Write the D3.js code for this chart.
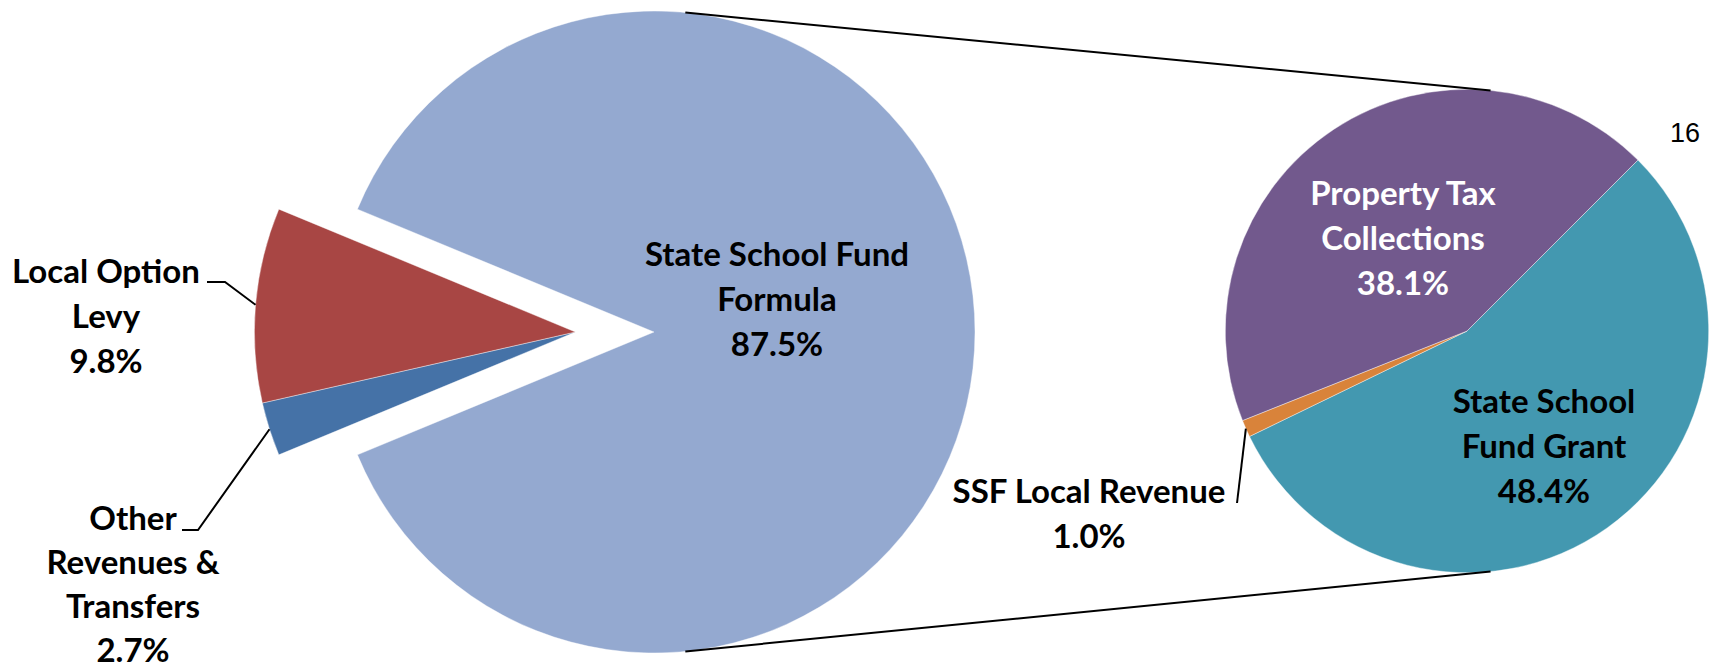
<!DOCTYPE html>
<html>
<head>
<meta charset="utf-8">
<script src="https://cdn.jsdelivr.net/npm/d3@7/dist/d3.min.js"></script>
<style>
  html, body { margin: 0; padding: 0; background: #fff; }
  svg { display: block; }
  .lbl { font-family: Lato, "Open Sans", sans-serif; font-weight: 700; }
</style>
</head>
<body>
<svg id="chart" width="1711" height="668"></svg>
<script>
// ---- data ----
const mainCategories = ["State School Fund Formula", "Other Revenues & Transfers", "Local Option Levy"];
const mainValues = [87.5, 2.7, 9.8];
const mainColors = ["#94A9D0", "#4572A7", "#A84644"];
const mainLabelLines = [["State School Fund", "Formula"], ["Other", "Revenues &", "Transfers"], ["Local Option", "Levy"]];

const subCategories = ["State School Fund Grant", "SSF Local Revenue", "Property Tax Collections"];
const subValues = [48.4, 1.0, 38.1];
const subColors = ["#4398B0", "#D9833A", "#72598D"];
const subLabelLines = [["State School", "Fund Grant"], ["SSF Local Revenue"], ["Property Tax", "Collections"]];
const subLabelColors = ["#000", "#000", "#fff"];

const pageNumber = "16";

// ---- layout ----
const svg = d3.select("#chart");
const fmt = v => d3.format(".1f")(v) + "%";

const main = { cx: 654, cy: 332, r: 321, explode: 78.6 };
const sub = { cx: 1467, cy: 331, r: 241.7 };
const fontSize = 33, lineH = 44.8;

// main pie: first slice centred on the right (3 o'clock)
const mainTotal = d3.sum(mainValues);
const mainStart = Math.PI / 2 - (mainValues[0] / mainTotal) * Math.PI;
const mainPie = d3.pie().sort(null).startAngle(mainStart).endAngle(mainStart + 2 * Math.PI);
const mainArcs = mainPie(mainValues);
const mainArc = d3.arc().innerRadius(0).outerRadius(main.r);
const mainEdge = d3.arc().innerRadius(main.r).outerRadius(main.r);

// explode the secondary slices along their combined mid-angle
const expStart = mainArcs[1].startAngle, expEnd = mainArcs[mainArcs.length - 1].endAngle;
const expMid = (expStart + expEnd) / 2;
const exDx = main.explode * Math.sin(expMid), exDy = -main.explode * Math.cos(expMid);

const gMain = svg.append("g").attr("transform", `translate(${main.cx},${main.cy})`);
gMain.selectAll("path.slice").data(mainArcs).join("path")
  .attr("class", "slice")
  .attr("d", mainArc)
  .attr("transform", (d, i) => i === 0 ? null : `translate(${exDx},${exDy})`)
  .attr("fill", (d, i) => mainColors[i])
  .attr("stroke", "#fff").attr("stroke-opacity", 0.5).attr("stroke-width", 0.8);

// secondary pie
const subPie = d3.pie().sort(null).startAngle(Math.PI / 4).endAngle(Math.PI / 4 + 2 * Math.PI);
const subArcs = subPie(subValues);
const subArc = d3.arc().innerRadius(0).outerRadius(sub.r);
const subEdge = d3.arc().innerRadius(sub.r).outerRadius(sub.r);
const gSub = svg.append("g").attr("transform", `translate(${sub.cx},${sub.cy})`);
gSub.selectAll("path.slice").data(subArcs).join("path")
  .attr("class", "slice")
  .attr("d", subArc)
  .attr("fill", (d, i) => subColors[i])
  .attr("stroke", "#fff").attr("stroke-opacity", 0.5).attr("stroke-width", 0.8);

// connector lines: external tangents between the two circles
const dist = sub.cx - main.cx;
const alpha = Math.asin((main.r - sub.r) / dist);
[-1, 1].forEach(s => {
  svg.append("line")
    .attr("x1", main.cx + main.r * Math.sin(alpha)).attr("y1", main.cy + s * main.r * Math.cos(alpha))
    .attr("x2", sub.cx + sub.r * Math.sin(alpha)).attr("y2", sub.cy + s * sub.r * Math.cos(alpha))
    .attr("stroke", "#000").attr("stroke-width", 2);
});

// labels
function label(lines, x, y0, color, lh) {
  const t = svg.append("text").attr("class", "lbl")
    .attr("text-anchor", "middle").attr("font-size", fontSize).attr("fill", color || "#000");
  lines.forEach((ln, k) => t.append("tspan").attr("x", x).attr("y", y0 + k * (lh || lineH)).text(ln));
  return t;
}
const mainLabelPos = [[777, 266, lineH], [133, 530, 44], [106, 283, lineH]];
mainArcs.forEach((d, i) => {
  label(mainLabelLines[i].concat([fmt(mainValues[i])]), mainLabelPos[i][0], mainLabelPos[i][1], "#000", mainLabelPos[i][2]);
});
const subLabelPos = [[1544, 413], [1089, 503], [1403, 205]];
subArcs.forEach((d, i) => {
  label(subLabelLines[i].concat([fmt(subValues[i])]), subLabelPos[i][0], subLabelPos[i][1], subLabelColors[i]);
});

// leader lines
function edgePoint(arcGen, d, cx, cy, dx, dy) {
  const c = arcGen.centroid(d);
  return [cx + c[0] + (dx || 0), cy + c[1] + (dy || 0)];
}
const levyPt = edgePoint(mainEdge, mainArcs[2], main.cx, main.cy, exDx, exDy);
const otherPt = edgePoint(mainEdge, mainArcs[1], main.cx, main.cy, exDx, exDy);
const ssfPt = edgePoint(subEdge, subArcs[1], sub.cx, sub.cy);
const leaders = [
  [[207, 282], [225, 282], levyPt],
  [[182, 530], [198, 530], otherPt],
  [[1237, 503], ssfPt]
];
svg.selectAll("path.leader").data(leaders).join("path")
  .attr("class", "leader")
  .attr("d", d3.line())
  .attr("fill", "none").attr("stroke", "#000").attr("stroke-width", 2);

// page number
svg.append("text").attr("x", 1670).attr("y", 142)
  .attr("font-family", "'Liberation Sans', Arial, sans-serif").attr("font-size", 27)
  .attr("fill", "#000").text(pageNumber);
</script>
</body>
</html>
